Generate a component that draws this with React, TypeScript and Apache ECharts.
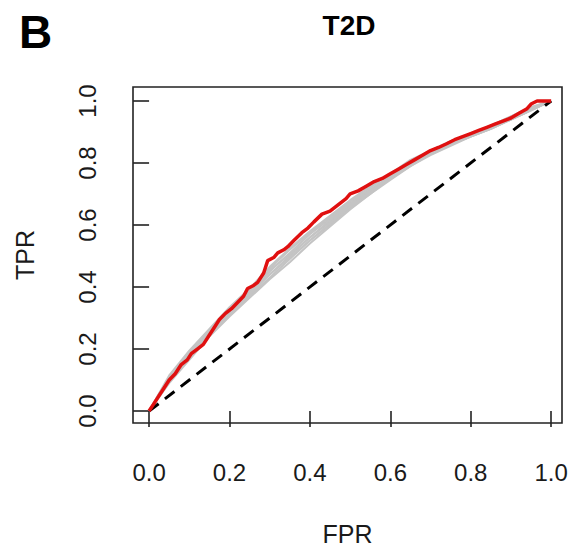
import React, { useEffect, useRef } from "react";
import * as echarts from "echarts";

const tickValues = [0, 0.2, 0.4, 0.6, 0.8, 1.0];

// Red ROC curve: [FPR, TPR]
const redCurve: [number, number][] = [
  [0, 0], [0.01, 0.02], [0.025, 0.05], [0.04, 0.08], [0.05, 0.1], [0.065, 0.12],
  [0.08, 0.15], [0.095, 0.165], [0.105, 0.185], [0.12, 0.2], [0.135, 0.215],
  [0.15, 0.245], [0.165, 0.275], [0.175, 0.295], [0.19, 0.315], [0.205, 0.33],
  [0.22, 0.35], [0.235, 0.37], [0.245, 0.395], [0.26, 0.405], [0.27, 0.415],
  [0.285, 0.445], [0.295, 0.485], [0.31, 0.495], [0.32, 0.51], [0.335, 0.52],
  [0.345, 0.53], [0.36, 0.55], [0.38, 0.575], [0.395, 0.59], [0.41, 0.61],
  [0.43, 0.635], [0.44, 0.64], [0.45, 0.645], [0.47, 0.665], [0.49, 0.685],
  [0.5, 0.7], [0.52, 0.71], [0.54, 0.725], [0.56, 0.74], [0.58, 0.75],
  [0.6, 0.765], [0.62, 0.78], [0.64, 0.795], [0.66, 0.81], [0.68, 0.825],
  [0.7, 0.84], [0.72, 0.85], [0.74, 0.862], [0.76, 0.875], [0.78, 0.885],
  [0.8, 0.895], [0.82, 0.905], [0.84, 0.915], [0.86, 0.925], [0.88, 0.935],
  [0.9, 0.945], [0.92, 0.96], [0.94, 0.975], [0.95, 0.99], [0.965, 1.0],
  [0.98, 1.0], [1.0, 1.0],
];

// Gray ROC curves share this FPR grid
const grayFpr = [0, 0.05, 0.1, 0.15, 0.2, 0.25, 0.3, 0.35, 0.4, 0.45, 0.5, 0.55, 0.6, 0.65, 0.7, 0.75, 0.8, 0.85, 0.9, 0.95, 1];
const grayTpr1 = [0, 0.11, 0.19, 0.26, 0.32, 0.385, 0.44, 0.5, 0.56, 0.61, 0.665, 0.71, 0.76, 0.8, 0.835, 0.865, 0.89, 0.915, 0.945, 0.975, 1];
const grayTpr2 = [0, 0.1, 0.17, 0.245, 0.31, 0.37, 0.43, 0.49, 0.55, 0.6, 0.655, 0.7, 0.75, 0.795, 0.83, 0.86, 0.885, 0.91, 0.94, 0.97, 1];
const grayTpr3 = [0, 0.095, 0.175, 0.25, 0.315, 0.38, 0.45, 0.51, 0.57, 0.62, 0.67, 0.715, 0.755, 0.8, 0.835, 0.86, 0.89, 0.92, 0.945, 0.975, 1];
const grayTpr4 = [0, 0.105, 0.185, 0.255, 0.33, 0.39, 0.46, 0.52, 0.575, 0.625, 0.675, 0.72, 0.765, 0.805, 0.84, 0.87, 0.895, 0.92, 0.95, 0.98, 1];
const grayTpr5 = [0, 0.09, 0.165, 0.24, 0.305, 0.365, 0.425, 0.48, 0.54, 0.595, 0.65, 0.7, 0.745, 0.79, 0.825, 0.855, 0.885, 0.91, 0.94, 0.97, 1];
const grayTpr6 = [0, 0.1, 0.18, 0.26, 0.325, 0.39, 0.455, 0.505, 0.56, 0.615, 0.665, 0.71, 0.755, 0.8, 0.83, 0.865, 0.89, 0.915, 0.945, 0.975, 1];
const grayTpr7 = [0, 0.115, 0.195, 0.265, 0.335, 0.395, 0.465, 0.525, 0.58, 0.63, 0.68, 0.725, 0.765, 0.81, 0.84, 0.87, 0.895, 0.92, 0.95, 0.98, 1];
const grayTpr8 = [0, 0.095, 0.17, 0.245, 0.31, 0.375, 0.44, 0.495, 0.55, 0.605, 0.66, 0.705, 0.75, 0.79, 0.83, 0.86, 0.885, 0.91, 0.94, 0.97, 1];
const grayCurves = [grayTpr1, grayTpr2, grayTpr3, grayTpr4, grayTpr5, grayTpr6, grayTpr7, grayTpr8];

const diagonal: [number, number][] = [[0, 0], [1, 1]];

export default function App() {
  const ref = useRef<HTMLDivElement>(null);
  useEffect(() => {
    if (!ref.current) return;
    const chart = echarts.init(ref.current, null, { renderer: "svg" });
    const font = "Liberation Sans, Arial, Helvetica, sans-serif";
    const graySeries = grayCurves.map((tpr) => ({
      type: "line",
      data: grayFpr.map((f, i) => [f, tpr[i]]),
      showSymbol: false,
      symbol: "none",
      lineStyle: { color: "#c4c4c4", width: 2 },
      silent: true,
    }));
    chart.setOption({
      animation: false,
      backgroundColor: "#ffffff",
      textStyle: { fontFamily: font },
      grid: {
        left: 133,
        top: 87,
        width: 429,
        height: 337,
        show: true,
        borderColor: "#222222",
        borderWidth: 1.6,
        backgroundColor: "transparent",
      },
      xAxis: {
        type: "value",
        min: -0.04,
        max: 1.027,
        axisLine: { show: false },
        splitLine: { show: false },
        axisTick: {
          show: true,
          customValues: tickValues,
          length: 16,
          lineStyle: { color: "#222222", width: 1.6 },
        },
        axisLabel: {
          customValues: tickValues,
          formatter: (v: number) => v.toFixed(1),
          fontSize: 24,
          color: "#1a1a1a",
          margin: 37,
          fontFamily: font,
        },
        name: "FPR",
        nameLocation: "middle",
        nameGap: 98,
        nameTextStyle: { fontSize: 25, color: "#1a1a1a", fontFamily: font },
      },
      yAxis: {
        type: "value",
        min: -0.0386,
        max: 1.045,
        axisLine: { show: false },
        splitLine: { show: false },
        axisTick: {
          show: true,
          customValues: tickValues,
          length: 16,
          lineStyle: { color: "#222222", width: 1.6 },
        },
        axisLabel: {
          customValues: tickValues,
          formatter: (v: number) => v.toFixed(1),
          fontSize: 24,
          color: "#1a1a1a",
          margin: 34,
          rotate: 90,
          fontFamily: font,
        },
        name: "TPR",
        nameLocation: "middle",
        nameGap: 96,
        nameRotate: 90,
        nameTextStyle: { fontSize: 25, color: "#1a1a1a", fontFamily: font },
      },
      graphic: [
        {
          type: "text",
          x: 349,
          y: 25,
          style: {
            text: "T2D",
            fontSize: 28,
            fontWeight: "bold",
            fill: "#000",
            textAlign: "center",
            textVerticalAlign: "middle",
            fontFamily: font,
          },
        },
        {
          type: "text",
          x: 19,
          y: 32,
          style: {
            text: "B",
            fontSize: 46,
            fontWeight: "bold",
            fill: "#000",
            textAlign: "left",
            textVerticalAlign: "middle",
            fontFamily: font,
          },
        },
      ],
      series: [
        ...graySeries,
        {
          type: "line",
          data: diagonal,
          showSymbol: false,
          symbol: "none",
          lineStyle: { color: "#000", width: 3, type: [12, 8] },
          silent: true,
        },
        {
          type: "line",
          data: redCurve,
          showSymbol: false,
          symbol: "none",
          lineStyle: { color: "#e01010", width: 3.5 },
          silent: true,
        },
      ],
    });
    return () => chart.dispose();
  }, []);
  return <div ref={ref} style={{ width: 575, height: 551, position: "absolute", left: 0, top: 0 }} />;
}
